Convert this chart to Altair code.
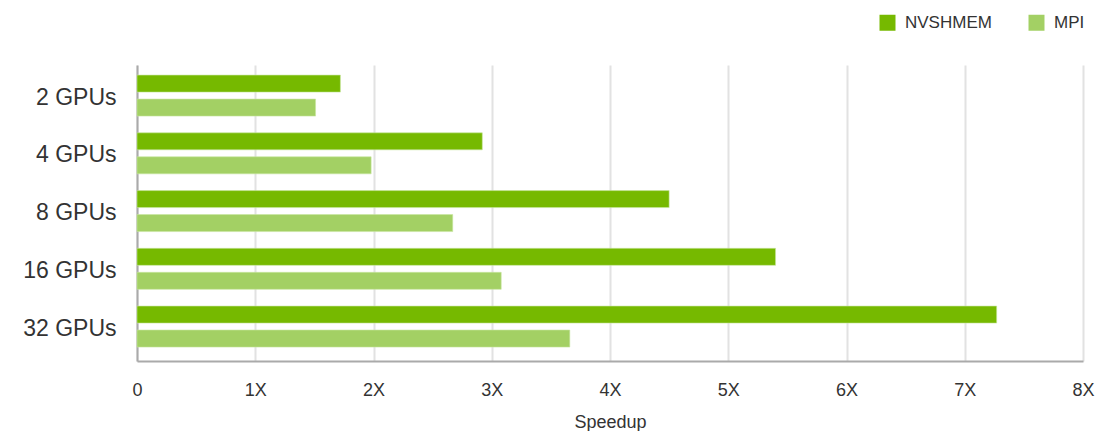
import altair as alt
import pandas as pd

categories = ["2 GPUs", "4 GPUs", "8 GPUs", "16 GPUs", "32 GPUs"]
series = ["NVSHMEM", "MPI"]
nvshmem = [1.72, 2.92, 4.50, 5.40, 7.27]
mpi = [1.51, 1.98, 2.67, 3.08, 3.66]
colors = ["#76b900", "#a3d064"]
x_ticks = [0, 1, 2, 3, 4, 5, 6, 7, 8]

rows = []
for c, a, b in zip(categories, nvshmem, mpi):
    rows.append({"gpus": c, "series": "NVSHMEM", "speedup": a})
    rows.append({"gpus": c, "series": "MPI", "speedup": b})
df = pd.DataFrame(rows)

FONT = "Liberation Sans"

chart = alt.Chart(df).mark_bar(
    stroke="#c8e6a0", strokeWidth=0.6
).encode(
    x=alt.X(
        "speedup:Q",
        scale=alt.Scale(domain=[0, 8], nice=False),
        axis=alt.Axis(
            values=x_ticks,
            labelExpr="datum.value == 0 ? '0' : datum.value + 'X'",
            labelFlush=False,
            title="Speedup",
            titleFont=FONT, titleFontSize=18, titleFontWeight="normal",
            titleColor="#333333",
            titleY=66, titleBaseline="alphabetic",
            labelFont=FONT, labelFontSize=18, labelColor="#333333",
            labelPadding=20, ticks=False, tickSize=0,
            domainColor="#aaaaaa", domainWidth=2,
            grid=True, gridColor="#e2e2e2", gridWidth=2,
        ),
    ),
    y=alt.Y(
        "gpus:N",
        sort=categories,
        scale=alt.Scale(paddingInner=0.29, paddingOuter=0.208, align=0.42),
        axis=alt.Axis(
            title=None,
            labelFont=FONT, labelFontSize=23, labelColor="#333333",
            labelPadding=21, labelOffset=2, ticks=False, tickSize=0,
            domainColor="#aaaaaa", domainWidth=2,
            grid=False,
        ),
    ),
    yOffset=alt.YOffset("series:N", sort=series,
                        scale=alt.Scale(paddingInner=0.29, paddingOuter=0)),
    color=alt.Color(
        "series:N",
        sort=series,
        scale=alt.Scale(domain=series, range=colors),
        legend=alt.Legend(
            title=None,
            orient="none",
            direction="horizontal",
            legendX=742, legendY=-51,
            symbolType="square", symbolSize=256, symbolStrokeWidth=0,
            labelFont=FONT, labelFontSize=17, labelColor="#333333",
            labelOffset=9, columnPadding=36, padding=0,
        ),
    ),
).properties(
    width=946,
    height=296,
    autosize=alt.AutoSizeParams(type="none"),
    padding={"left": 137, "top": 65, "right": 13, "bottom": 70},
    background="white",
).configure_view(
    strokeWidth=0, stroke="transparent"
)

chart.save("out.html", embed_options={"renderer": "svg", "actions": False})
